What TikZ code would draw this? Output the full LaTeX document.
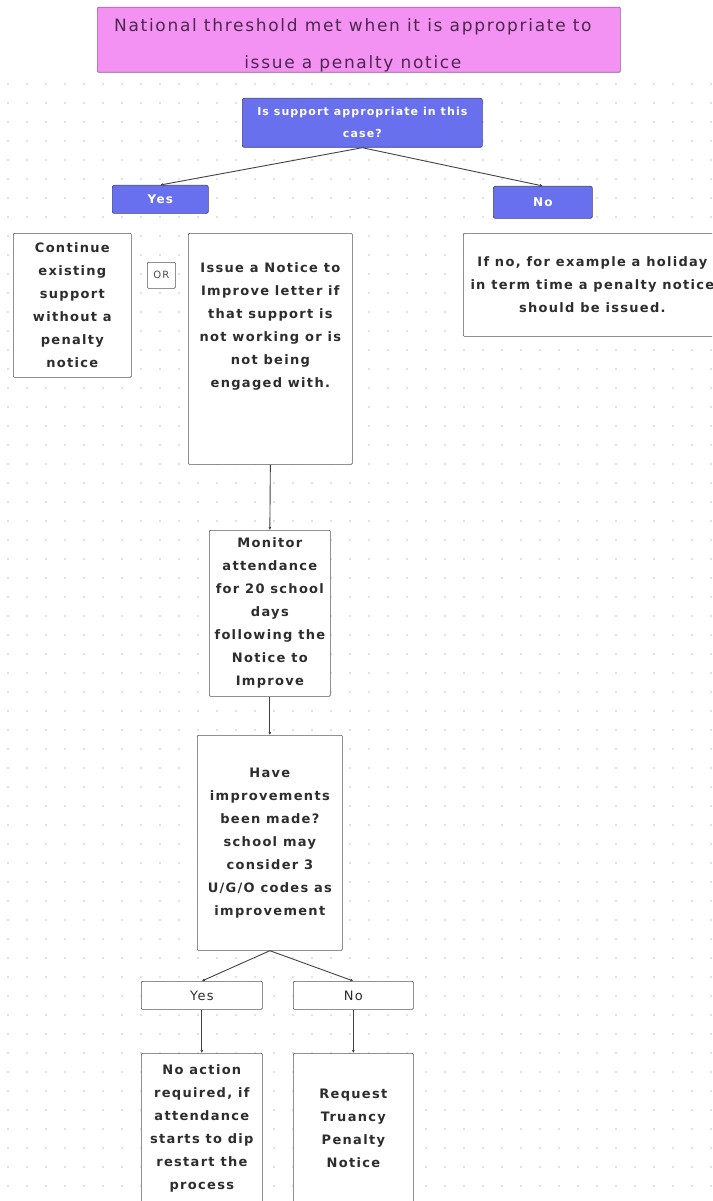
\documentclass[tikz,border=0pt]{standalone}
\usepackage{fontspec}
\setmainfont{DejaVu Sans}[LetterSpace=10]
\usetikzlibrary{positioning,arrows.meta}

\definecolor{titlepink}{RGB}{244,146,244}
\definecolor{titleedge}{RGB}{150,90,150}
\definecolor{titleink}{RGB}{75,40,75}
\definecolor{qblue}{RGB}{104,112,238}
\definecolor{qedge}{RGB}{62,66,130}
\definecolor{inkgrey}{RGB}{45,45,45}
\definecolor{dotgrey}{RGB}{226,226,226}

\begin{document}
\begin{tikzpicture}[x=1pt,y=-1pt,
  wbox/.style={draw=inkgrey!80,fill=white,line width=0.7pt,rounded corners=1pt,inner sep=0pt,anchor=north west,align=center,text=inkgrey,font=\fontsize{13}{23}\selectfont\bfseries},
  bbox/.style={draw=qedge,fill=qblue,line width=0.7pt,rounded corners=2pt,inner sep=0pt,anchor=north west,align=center,text=white,font=\fontsize{11}{22}\selectfont\bfseries},
  link/.style={draw=inkgrey!90,line width=0.9pt,-{Latex[length=3pt,width=3pt]}}]
\useasboundingbox (0,0) rectangle (712,1201);
\clip (0,0) rectangle (712,1201);

% dotted page
\foreach \gx in {8,27,...,712}
  \foreach \gy in {84,103,...,1201}
    \fill[dotgrey] (\gx-0.6,\gy-0.6) rectangle ++(1.2,1.2);

\node[draw=titleedge,fill=titlepink,line width=0.7pt,rounded corners=1pt,inner sep=0pt,anchor=north west,
  minimum width=523pt,minimum height=65pt] (thresh) at (97,7) {};
\node[inner sep=0pt,align=center,text=titleink,font=\fontsize{17}{37}\selectfont,below=0pt of thresh.center,yshift=21pt,xshift=-6pt]
  (threshtxt) {National threshold met when it is appropriate to\\issue a penalty notice};

\node[bbox,minimum width=240pt,minimum height=49pt] (quest) at (242,98) {Is support appropriate in this\\case?};
\node[bbox,minimum width=96pt,minimum height=28pt,font=\fontsize{12}{14}\selectfont\bfseries] (yes) at (112,185) {Yes};
\node[bbox,minimum width=99pt,minimum height=32pt,font=\fontsize{12}{14}\selectfont\bfseries] (no) at (493,186) {No};

\node[wbox,minimum width=118pt,minimum height=144pt] (cont) at (13,233) {Continue\\existing\\support\\without a\\penalty\\notice};
\node[wbox,minimum width=28pt,minimum height=26pt,font=\fontsize{10}{12}\selectfont,text=inkgrey!85] (or) at (147,262) {OR};
\node[wbox,minimum width=164pt,minimum height=231pt] (issue) at (188,233) {};
\node[inner sep=0pt,align=center,text=inkgrey,font=\fontsize{13}{23}\selectfont\bfseries,below=29pt of issue.north]
  (issuetxt) {Issue a Notice to\\Improve letter if\\that support is\\not working or is\\not being\\engaged with.};
\node[wbox,minimum width=258pt,minimum height=103pt] (ifno) at (463,233) {If no, for example a holiday\\in term time a penalty notice\\should be issued.};

\node[wbox,minimum width=121pt,minimum height=166pt] (monitor) at (209,530) {Monitor\\attendance\\for 20 school\\days\\following the\\Notice to\\Improve};
\node[wbox,minimum width=145pt,minimum height=215pt] (improved) at (197,735) {Have\\improvements\\been made?\\school may\\consider 3\\U/G/O codes as\\improvement};

\node[wbox,minimum width=121pt,minimum height=28pt,font=\fontsize{13}{23}\selectfont] (yes2) at (141,981) {Yes};
\node[wbox,minimum width=120pt,minimum height=28pt,font=\fontsize{13}{23}\selectfont] (no2) at (293,981) {No};
\node[wbox,minimum width=121pt,minimum height=150pt] (noaction) at (141,1053) {No action\\required, if\\attendance\\starts to dip\\restart the\\process};
\node[wbox,minimum width=120pt,minimum height=150pt] (truancy) at (293,1053) {Request\\Truancy\\Penalty\\Notice};

\draw[link] (quest.south) -- (yes.north);
\draw[link] (quest.south) -- (no.north);
\draw[link] (issue.south) -- (monitor.north);
\draw[link] (monitor.south) -- (improved.north);
\draw[link] (improved.south) -- (yes2.north);
\draw[link] (improved.south) -- (no2.north);
\draw[link] (yes2.south) -- (noaction.north);
\draw[link] (no2.south) -- (truancy.north);
\end{tikzpicture}
\end{document}
